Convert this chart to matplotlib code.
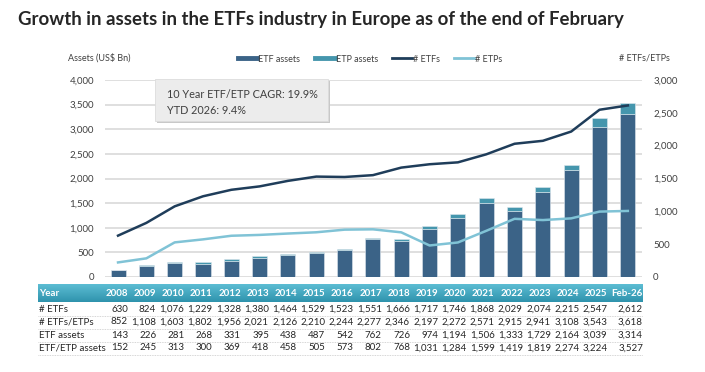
import numpy as np
import matplotlib.pyplot as plt
from matplotlib.lines import Line2D
from matplotlib.patches import FancyBboxPatch
from matplotlib.colors import LinearSegmentedColormap

plt.rcParams['font.family'] = ['Lato', 'DejaVu Sans']

# Data from the table
years = ['2008', '2009', '2010', '2011', '2012', '2013', '2014', '2015', '2016', '2017',
         '2018', '2019', '2020', '2021', '2022', '2023', '2024', '2025', 'Feb-26']
n_etfs = np.array([630, 824, 1076, 1229, 1328, 1380, 1464, 1529, 1523, 1551,
                   1666, 1717, 1746, 1868, 2029, 2074, 2215, 2547, 2612])
n_etfs_etps = np.array([852, 1108, 1603, 1802, 1956, 2021, 2126, 2210, 2244, 2277,
                        2346, 2197, 2272, 2571, 2915, 2941, 3108, 3543, 3618])
etf_assets = np.array([143, 226, 281, 268, 331, 395, 438, 487, 542, 762,
                       726, 974, 1194, 1506, 1333, 1729, 2164, 3039, 3314])
etf_etp_assets = np.array([152, 245, 313, 300, 369, 418, 458, 505, 573, 802,
                           768, 1031, 1284, 1599, 1419, 1819, 2274, 3224, 3527])

etp_assets = etf_etp_assets - etf_assets
n_etps = n_etfs_etps - n_etfs

W, H = 705, 372
fig = plt.figure(figsize=(W / 100, H / 100), dpi=100)


def fx(x):
    return x / W


def fy(y):
    return 1 - y / H


c_etf = '#3b6387'
c_etp = '#4596ad'
c_line1 = '#1f3d5a'
c_line2 = '#80c3d6'
c_text = '#404040'

ax = fig.add_axes([fx(105), fy(277), fx(642) - fx(105), fy(80) - fy(277)])
x = np.arange(len(years))
ax.bar(x, etf_assets, width=0.53, color=c_etf, edgecolor='#dfe7ee', linewidth=0.4, zorder=2)
ax.bar(x, etp_assets, width=0.53, bottom=etf_assets, color=c_etp, edgecolor='#dfe7ee',
       linewidth=0.4, zorder=2)
ax.set_xlim(-0.46, 18.5)
ax.set_ylim(0, 4000)
ax.set_yticks(np.arange(0, 4001, 500))
ax.set_yticklabels([f'{v:,}' for v in range(0, 4001, 500)])
ax.set_xticks([])
ax.grid(axis='y', color='#d9d9d9', linewidth=1.2, zorder=0)
ax.set_axisbelow(True)
for s in ax.spines.values():
    s.set_visible(False)
ax.tick_params(axis='y', length=0, labelsize=7, colors=c_text, pad=8)

ax2 = ax.twinx()
ax2.plot(x, n_etfs, color=c_line1, lw=1.8, zorder=3)
ax2.plot(x, n_etps, color=c_line2, lw=1.8, zorder=3)
ax2.set_ylim(0, 3000)
ax2.set_yticks(np.arange(0, 3001, 500))
ax2.set_yticklabels([f'{v:,}' for v in range(0, 3001, 500)])
for s in ax2.spines.values():
    s.set_visible(False)
ax2.tick_params(axis='y', length=0, labelsize=7, colors=c_text, pad=8)

# Title and axis captions
fig.text(fx(18), fy(20), 'Growth in assets in the ETFs industry in Europe as of the end of February',
         fontsize=13.4, fontweight='bold', color='#262626', va='center', ha='left')
fig.text(fx(68), fy(58), 'Assets (US$ Bn)', fontsize=6.5, color=c_text, va='center')
fig.text(fx(670), fy(58), '# ETFs/ETPs', fontsize=6.5, color=c_text, va='center', ha='right')

# Legend
handles = [Line2D([], [], color=c_etf, lw=3.5), Line2D([], [], color=c_etp, lw=3.5),
           Line2D([], [], color=c_line1, lw=2), Line2D([], [], color=c_line2, lw=2)]
fig.legend(handles, ['ETF assets', 'ETP assets', '# ETFs', '# ETPs'], loc='center',
           bbox_to_anchor=(fx(370), fy(59)), ncol=4, frameon=False, fontsize=6.5,
           handlelength=2.2, handletextpad=0.1, columnspacing=1.6, labelcolor=c_text)

# Annotation box
shadow = FancyBboxPatch((fx(157), fy(123)), fx(173), fy(80) - fy(122), boxstyle='square,pad=0',
                        transform=fig.transFigure, facecolor='#c8c8c8', edgecolor='none', zorder=4)
fig.patches.append(shadow)
box = FancyBboxPatch((fx(155), fy(121)), fx(173), fy(79) - fy(121), boxstyle='square,pad=0',
                     transform=fig.transFigure, facecolor='#ececec', edgecolor='#dcdcdc',
                     linewidth=0.6, zorder=5)
fig.patches.append(box)
fig.text(fx(167), fy(94), '10 Year ETF/ETP CAGR: 19.9%', fontsize=7.8, color='#404040',
         va='center', zorder=6)
fig.text(fx(167), fy(110), 'YTD 2026: 9.4%', fontsize=7.8, color='#404040', va='center',
         zorder=6)

# Table under the chart
grad_ax = fig.add_axes([fx(38), fy(302), fx(643) - fx(38), fy(284) - fy(302)])
grad = np.linspace(0, 1, 50).reshape(-1, 1)
cmap = LinearSegmentedColormap.from_list('hdr', ['#5cbdd3', '#2f93ad'])
grad_ax.imshow(grad, aspect='auto', cmap=cmap, extent=[0, 1, 0, 1])
grad_ax.axis('off')

col_right = [128 + 28.2 * i for i in range(18)] + [643]
fig.text(fx(39), fy(294), 'Year', fontsize=7, fontweight='bold', color='white', va='center')
for xr, yr in zip(col_right, years):
    fig.text(fx(xr), fy(294), yr, fontsize=7, fontweight='bold', color='white',
             va='center', ha='right')

rows = [('# ETFs', n_etfs), ('# ETFs/ETPs', n_etfs_etps),
        ('ETF assets', etf_assets), ('ETF/ETP assets', etf_etp_assets)]
row_y = [309, 322, 335, 348]
for (label, vals), yy in zip(rows, row_y):
    fig.text(fx(39), fy(yy), label, fontsize=7, color='#262626', va='center')
    for xr, v in zip(col_right, vals):
        fig.text(fx(xr), fy(yy), f'{v:,}', fontsize=7, color='#262626', va='center', ha='right')
    fig.add_artist(Line2D([fx(38), fx(643)], [fy(yy + 7), fy(yy + 7)], color='#c8c8c8',
                          lw=0.6, linestyle=(0, (1, 1)), transform=fig.transFigure))

fig.savefig('out.png', dpi=100)
